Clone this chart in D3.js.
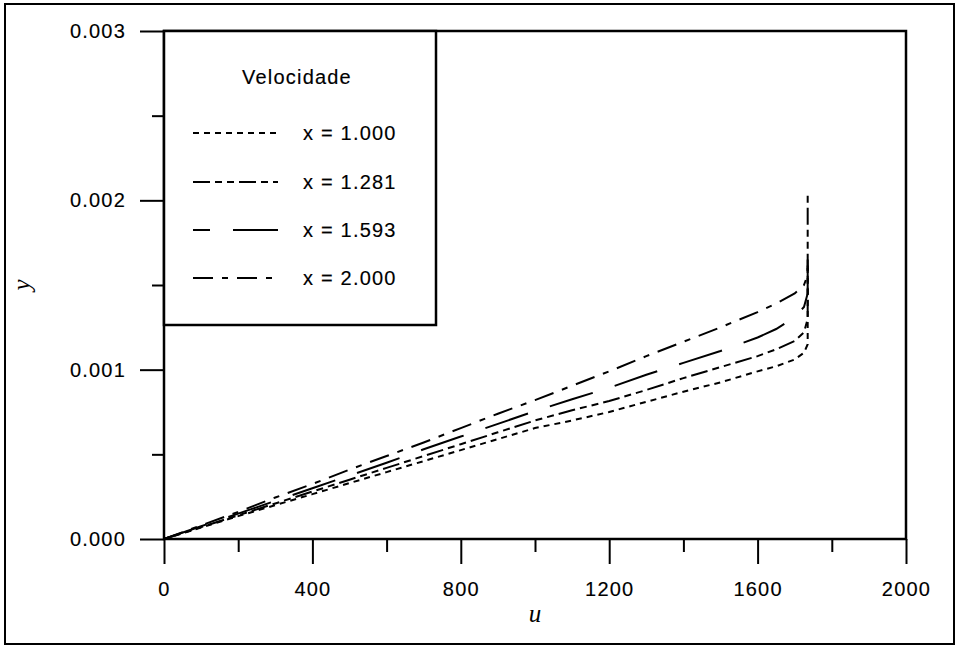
<!DOCTYPE html>
<html>
<head>
<meta charset="utf-8">
<script src="https://cdn.jsdelivr.net/npm/d3@7"></script>
<style>
  html, body { margin: 0; padding: 0; background: #fff; }
  svg { display: block; }
  .lbl, .tick text { font-family: "Liberation Sans", Arial, sans-serif; font-size: 20px; fill: #000; letter-spacing: 1.2px; stroke: #000; stroke-width: 0.15px; }
</style>
</head>
<body>
<svg id="chart" width="956" height="646"></svg>
<script>
// Velocity profiles: u along the horizontal axis, y along the vertical axis
const uValues = [0, 100, 200, 300, 400, 500, 600, 700, 800, 900, 1000, 1100, 1200, 1300, 1400, 1500, 1600, 1650, 1700, 1725, 1735, 1735];

const yX1000 = [0, 0.000068, 0.000135, 0.000200, 0.000265, 0.000330, 0.000395, 0.000460, 0.000525, 0.000590, 0.000655, 0.000700, 0.000750, 0.000810, 0.000870, 0.000925, 0.000990, 0.001020, 0.001060, 0.001100, 0.001150, 0.001600];
const yX1281 = [0, 0.000070, 0.000140, 0.000210, 0.000280, 0.000350, 0.000420, 0.000490, 0.000560, 0.000630, 0.000700, 0.000760, 0.000815, 0.000880, 0.000950, 0.001015, 0.001080, 0.001120, 0.001170, 0.001220, 0.001300, 0.002030];
const yX1593 = [0, 0.000075, 0.000150, 0.000225, 0.000300, 0.000375, 0.000450, 0.000530, 0.000605, 0.000680, 0.000755, 0.000825, 0.000893, 0.000970, 0.001040, 0.001110, 0.001190, 0.001240, 0.001310, 0.001370, 0.001450, 0.001700];
const yX2000 = [0, 0.000080, 0.000160, 0.000245, 0.000325, 0.000410, 0.000490, 0.000570, 0.000655, 0.000740, 0.000820, 0.000905, 0.000990, 0.001080, 0.001165, 0.001250, 0.001340, 0.001390, 0.001450, 0.001500, 0.001560, 0.001650];

const seriesNames = ["x = 1.000", "x = 1.281", "x = 1.593", "x = 2.000"];
const seriesValues = [yX1000, yX1281, yX1593, yX2000];
const seriesDash = ["6,5", "17,5,7,5,7,5", "45,23", "20,9,6,9"];

const xTicksMajor = [0, 400, 800, 1200, 1600, 2000];
const xTicksMinor = [200, 600, 1000, 1400, 1800];
const yTicksMajor = [0, 0.001, 0.002, 0.003];
const yTicksMinor = [0.0005, 0.0015, 0.0025];

const svg = d3.select("#chart");
const plot = { left: 164, right: 906, top: 31, bottom: 539 };

const x = d3.scaleLinear().domain([0, 2000]).range([plot.left, plot.right]);
const y = d3.scaleLinear().domain([0, 0.003]).range([plot.bottom, plot.top]);

// outer frame
svg.append("rect")
  .attr("x", 5).attr("y", 4).attr("width", 949).attr("height", 640)
  .attr("fill", "none").attr("stroke", "#000").attr("stroke-width", 2);

// axes: major ticks with labels, minor ticks without
function styleAxis(g) {
  g.select(".domain").remove();
  g.selectAll(".tick line").attr("stroke", "#000").attr("stroke-width", 2);
}

svg.append("g")
  .attr("transform", `translate(0,${plot.bottom})`)
  .call(d3.axisBottom(x).tickValues(xTicksMajor).tickSize(25).tickPadding(18).tickFormat(d3.format("d")))
  .call(styleAxis);
svg.append("g")
  .attr("transform", `translate(0,${plot.bottom})`)
  .call(d3.axisBottom(x).tickValues(xTicksMinor).tickSize(13).tickFormat(""))
  .call(styleAxis);

svg.append("g")
  .attr("transform", `translate(${plot.left},0)`)
  .call(d3.axisLeft(y).tickValues(yTicksMajor).tickSize(24).tickPadding(14).tickFormat(d3.format(".3f")))
  .call(styleAxis);
svg.append("g")
  .attr("transform", `translate(${plot.left},0)`)
  .call(d3.axisLeft(y).tickValues(yTicksMinor).tickSize(12).tickFormat(""))
  .call(styleAxis);

// plot frame
svg.append("rect")
  .attr("x", plot.left).attr("y", plot.top)
  .attr("width", plot.right - plot.left).attr("height", plot.bottom - plot.top)
  .attr("fill", "none").attr("stroke", "#000").attr("stroke-width", 2.5);

// curves
const line = d3.line()
  .x((d, i) => x(uValues[i]))
  .y(d => y(d));

svg.append("g").selectAll("path")
  .data(seriesValues)
  .join("path")
  .attr("d", d => line(d))
  .attr("fill", "none")
  .attr("stroke", "#000")
  .attr("stroke-width", 2)
  .attr("stroke-dasharray", (d, i) => seriesDash[i]);

// legend
const lg = svg.append("g");
lg.append("rect")
  .attr("x", plot.left).attr("y", plot.top)
  .attr("width", 272).attr("height", 294)
  .attr("fill", "#fff").attr("stroke", "#000").attr("stroke-width", 2.5);
lg.append("text")
  .attr("class", "lbl")
  .attr("x", 297).attr("y", 77).attr("dy", "0.35em")
  .attr("text-anchor", "middle")
  .text("Velocidade");

const rowY = [133, 182, 230, 278];
seriesNames.forEach((name, i) => {
  lg.append("line")
    .attr("x1", 193).attr("x2", 278)
    .attr("y1", rowY[i]).attr("y2", rowY[i])
    .attr("stroke", "#000").attr("stroke-width", 2)
    .attr("stroke-dasharray", seriesDash[i])
    .attr("stroke-dashoffset", i === 2 ? 28 : 0);
  lg.append("text")
    .attr("class", "lbl")
    .attr("x", 303).attr("y", rowY[i]).attr("dy", "0.35em")
    .text(name);
});

// axis titles
svg.append("text")
  .attr("x", (plot.left + plot.right) / 2).attr("y", 622)
  .attr("text-anchor", "middle")
  .style("font-family", "Liberation Serif, serif")
  .style("font-style", "italic").style("font-size", "25px")
  .text("u");
svg.append("text")
  .attr("transform", `translate(30,${(plot.top + plot.bottom) / 2}) rotate(-90)`)
  .attr("text-anchor", "middle")
  .style("font-family", "Liberation Serif, serif")
  .style("font-style", "italic").style("font-size", "25px")
  .text("y");
</script>
</body>
</html>
